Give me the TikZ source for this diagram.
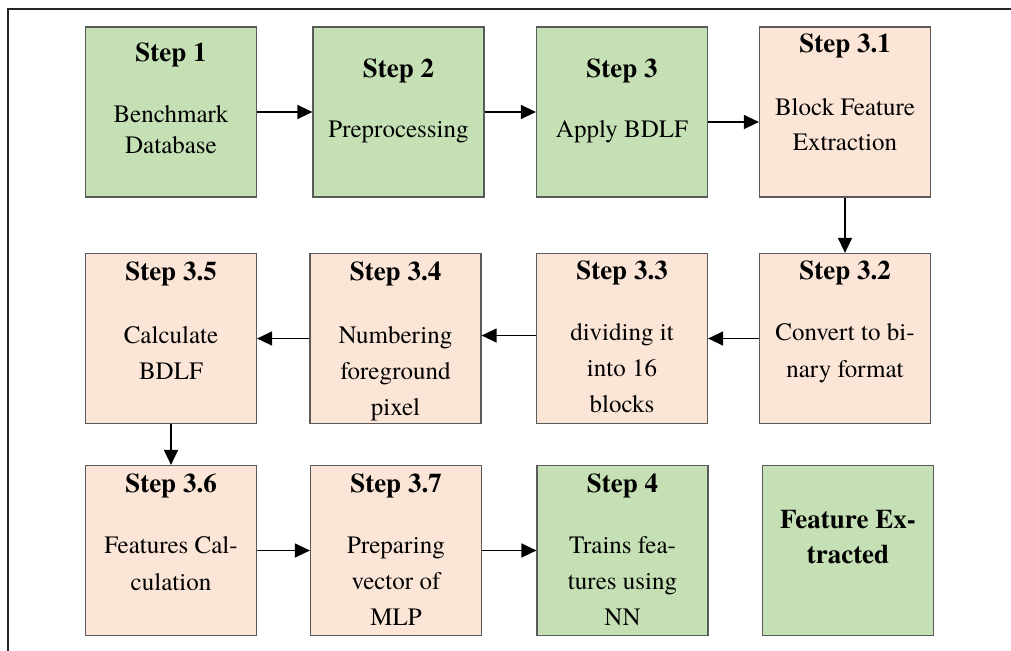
\documentclass[tikz,border=0pt]{standalone}
\usepackage{fontspec}
\setmainfont{texgyretermes}[Extension=.otf, UprightFont=*-regular, BoldFont=*-bold, ItalicFont=*-italic, BoldItalicFont=*-bolditalic]
\usetikzlibrary{arrows.meta}
\definecolor{boxgreen}{HTML}{C5E0B4}
\definecolor{boxpeach}{HTML}{FBE5D6}
\definecolor{edgegray}{HTML}{5A5A5A}
\newcommand\steptext[7]{%
  \node[ttl] (#1-t) at (#2,#3) {#4};
  \foreach \ln [count=\i] in {#7}
    \node[bdy] (#1-\i) at (#2,{#5+(\i-1)*#6}) {\ln};
}
\begin{document}
\begin{tikzpicture}[x=1pt,y=-1pt,
  stepbox/.style={draw=edgegray, line width=1.2pt, minimum width=171pt, minimum height=170pt, inner sep=0pt},
  gbox/.style={stepbox, fill=boxgreen},
  pbox/.style={stepbox, fill=boxpeach},
  ttl/.style={font=\fontsize{27}{32}\selectfont\bfseries, anchor=base, inner sep=0pt},
  bdy/.style={font=\fontsize{25}{30}\selectfont, anchor=base, inner sep=0pt},
  conn/.style={line width=1.3pt, -{Triangle[length=15pt,width=14pt]}}]
\useasboundingbox (0,0) rectangle (1011,650);
\draw[line width=1.8pt, draw=black!85] (8,660) -- (8,9) -- (1020,9);

% row 1
\node[gbox] (s1) at (171,112) {};
\node[gbox] (s2) at (398.5,112) {};
\node[gbox] (s3) at (622,112) {};
\node[pbox] (s31) at (845,112) {};
% row 2
\node[pbox] (s35) at (171,338.5) {};
\node[pbox] (s34) at (395.5,338.5) {};
\node[pbox] (s33) at (622,338.5) {};
\node[pbox] (s32) at (845,338.5) {};
% row 3
\node[pbox] (s36) at (171,550.5) {};
\node[pbox] (s37) at (396,550.5) {};
\node[gbox] (s4) at (622.5,550.5) {};
\node[gbox] (fe) at (848,550.5) {};

\steptext{s1}{171}{62}{Step 1}{122}{31}{Benchmark,Database}
\steptext{s2}{398.5}{78}{Step 2}{138}{31}{Preprocessing}
\steptext{s3}{622}{78}{Step 3}{138}{31}{Apply BDLF}
\steptext{s31}{845}{53}{Step 3.1}{116}{34}{Block Feature,Extraction}
\steptext{s32}{845}{279}{Step 3.2}{340}{37}{Convert to bi-,nary format}
\steptext{s33}{622}{279}{Step 3.3}{340}{36}{dividing it,into 16,blocks}
\steptext{s34}{395.5}{280}{Step 3.4}{343}{36}{Numbering,foreground,pixel}
\steptext{s35}{171}{280}{Step 3.5}{343}{36}{Calculate,BDLF}
\steptext{s36}{171}{492}{Step 3.6}{553}{37}{Features Cal-,culation}
\steptext{s37}{396}{492}{Step 3.7}{553}{36}{Preparing,vector of,MLP}
\steptext{s4}{622.5}{492}{Step 4}{553}{36}{Trains fea-,tures using,NN}
\node[ttl] (fe-1) at (848,528) {Feature Ex-};
\node[ttl] (fe-2) at (848,563) {tracted};

% connectors
\draw[conn] (s1) -- (s2);
\draw[conn] (s2) -- (s3);
\draw[conn] ([yshift=-10pt]s3.east) -- ([yshift=-10pt]s31.west);
\draw[conn] (s31) -- (s32);
\draw[conn] (s32) -- (s33);
\draw[conn] ([yshift=3pt]s33.west) -- ([yshift=3pt]s34.east);
\draw[conn] (s34) -- (s35);
\draw[conn] (s35) -- (s36);
\draw[conn] (s36) -- (s37);
\draw[conn] (s37) -- (s4);
\end{tikzpicture}
\end{document}
